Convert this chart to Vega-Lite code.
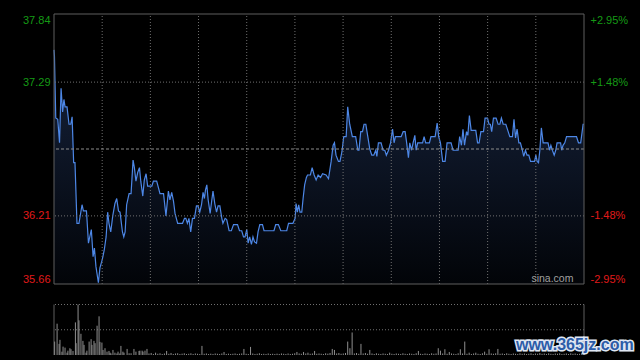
{
  "$schema": "https://vega.github.io/schema/vega-lite/v6.json",
  "width": 530,
  "height": 341,
  "autosize": {"type": "none"},
  "padding": {"left": 54, "top": 14, "right": 56, "bottom": 5},
  "background": "#000000",
  "config": {"view": {"stroke": null}, "font": "Liberation Sans"},
  "datasets": {
    "price": [
      {"t":0,"p":37.55},{"t":0.2,"p":37.5},{"t":0.8,"p":37.0},{"t":1.7,"p":36.99},{"t":2.5,"p":36.8},{"t":3.2,"p":37.24},{"t":3.9,"p":37.05},{"t":4.5,"p":37.15},{"t":5.0,"p":37.09},{"t":5.9,"p":37.09},{"t":6.8,"p":36.95},{"t":7.6,"p":36.95},{"t":8.2,"p":37.01},{"t":8.9,"p":36.64},{"t":9.5,"p":36.64},{"t":10.4,"p":36.15},{"t":11.3,"p":36.15},{"t":12.7,"p":36.3},{"t":13.3,"p":36.25},{"t":14.7,"p":36.25},{"t":15.6,"p":35.99},{"t":16.2,"p":36.04},{"t":16.9,"p":36.1},{"t":17.7,"p":35.88},{"t":18.3,"p":35.95},{"t":19.0,"p":35.8},{"t":20.1,"p":35.67},{"t":20.8,"p":35.79},{"t":21.9,"p":35.86},{"t":22.8,"p":35.94},{"t":23.6,"p":36.04},{"t":24.3,"p":36.24},{"t":24.9,"p":36.15},{"t":25.7,"p":36.08},{"t":26.6,"p":36.21},{"t":27.6,"p":36.31},{"t":28.4,"p":36.35},{"t":29.2,"p":36.25},{"t":29.9,"p":36.24},{"t":31.0,"p":36.08},{"t":31.6,"p":36.04},{"t":32.2,"p":36.08},{"t":32.9,"p":36.3},{"t":34.0,"p":36.39},{"t":34.9,"p":36.39},{"t":35.8,"p":36.66},{"t":36.4,"p":36.6},{"t":37.1,"p":36.49},{"t":37.9,"p":36.56},{"t":38.7,"p":36.6},{"t":39.3,"p":36.49},{"t":40.2,"p":36.37},{"t":40.9,"p":36.5},{"t":41.7,"p":36.55},{"t":42.4,"p":36.45},{"t":44.3,"p":36.45},{"t":45.0,"p":36.49},{"t":46.5,"p":36.49},{"t":48.0,"p":36.39},{"t":49.6,"p":36.39},{"t":50.7,"p":36.21},{"t":51.8,"p":36.41},{"t":52.5,"p":36.34},{"t":53.3,"p":36.4},{"t":54.1,"p":36.33},{"t":54.8,"p":36.23},{"t":56.0,"p":36.15},{"t":58.2,"p":36.15},{"t":59.1,"p":36.19},{"t":59.7,"p":36.19},{"t":60.4,"p":36.15},{"t":61.1,"p":36.19},{"t":61.9,"p":36.08},{"t":62.7,"p":36.19},{"t":63.6,"p":36.19},{"t":64.5,"p":36.29},{"t":65.2,"p":36.29},{"t":66.0,"p":36.24},{"t":66.8,"p":36.3},{"t":67.5,"p":36.4},{"t":68.1,"p":36.35},{"t":68.6,"p":36.42},{"t":69.2,"p":36.46},{"t":69.8,"p":36.34},{"t":70.7,"p":36.23},{"t":71.4,"p":36.33},{"t":72.0,"p":36.41},{"t":72.8,"p":36.31},{"t":73.6,"p":36.24},{"t":74.3,"p":36.29},{"t":75.1,"p":36.29},{"t":76.0,"p":36.19},{"t":76.5,"p":36.15},{"t":77.5,"p":36.19},{"t":78.2,"p":36.18},{"t":79.3,"p":36.09},{"t":80.3,"p":36.09},{"t":81.3,"p":36.14},{"t":83.1,"p":36.14},{"t":84.0,"p":36.09},{"t":85.0,"p":36.09},{"t":85.8,"p":36.04},{"t":86.5,"p":36.04},{"t":87.3,"p":36.1},{"t":87.9,"p":35.99},{"t":88.6,"p":36.04},{"t":89.4,"p":35.98},{"t":90.1,"p":36.04},{"t":90.8,"p":36.0},{"t":91.7,"p":35.99},{"t":92.4,"p":36.08},{"t":93.2,"p":36.14},{"t":94.4,"p":36.14},{"t":95.1,"p":36.09},{"t":99.6,"p":36.09},{"t":100.4,"p":36.14},{"t":101.6,"p":36.14},{"t":102.7,"p":36.09},{"t":105.4,"p":36.09},{"t":106.2,"p":36.15},{"t":108.2,"p":36.15},{"t":109.2,"p":36.19},{"t":109.6,"p":36.31},{"t":110.2,"p":36.24},{"t":110.8,"p":36.3},{"t":111.4,"p":36.24},{"t":112.2,"p":36.24},{"t":112.8,"p":36.35},{"t":113.5,"p":36.46},{"t":114.3,"p":36.52},{"t":114.8,"p":36.54},{"t":116.1,"p":36.54},{"t":116.9,"p":36.6},{"t":117.8,"p":36.54},{"t":118.7,"p":36.5},{"t":119.6,"p":36.54},{"t":120.7,"p":36.52},{"t":121.6,"p":36.55},{"t":123.2,"p":36.54},{"t":124.3,"p":36.51},{"t":125.5,"p":36.65},{"t":126.4,"p":36.78},{"t":127.0,"p":36.8},{"t":127.7,"p":36.7},{"t":128.8,"p":36.65},{"t":129.5,"p":36.65},{"t":130.4,"p":36.73},{"t":131.2,"p":36.85},{"t":132.3,"p":36.85},{"t":133.0,"p":37.09},{"t":133.9,"p":36.95},{"t":135.1,"p":36.85},{"t":136.6,"p":36.85},{"t":137.6,"p":36.74},{"t":138.1,"p":36.74},{"t":138.9,"p":36.89},{"t":139.7,"p":36.89},{"t":140.4,"p":36.95},{"t":141.2,"p":36.95},{"t":142.1,"p":36.85},{"t":143.0,"p":36.75},{"t":143.9,"p":36.7},{"t":144.8,"p":36.7},{"t":145.7,"p":36.74},{"t":146.2,"p":36.69},{"t":146.9,"p":36.8},{"t":148.1,"p":36.8},{"t":149.0,"p":36.74},{"t":149.8,"p":36.74},{"t":150.5,"p":36.7},{"t":151.5,"p":36.74},{"t":152.4,"p":36.8},{"t":153.3,"p":36.91},{"t":154.0,"p":36.8},{"t":154.6,"p":36.85},{"t":157.2,"p":36.85},{"t":158.1,"p":36.89},{"t":159.0,"p":36.89},{"t":159.7,"p":36.8},{"t":160.5,"p":36.68},{"t":161.1,"p":36.8},{"t":161.9,"p":36.74},{"t":162.6,"p":36.8},{"t":163.4,"p":36.86},{"t":164.0,"p":36.74},{"t":164.7,"p":36.8},{"t":166.9,"p":36.8},{"t":167.6,"p":36.85},{"t":168.3,"p":36.8},{"t":170.0,"p":36.8},{"t":170.7,"p":36.85},{"t":172.6,"p":36.85},{"t":173.5,"p":36.96},{"t":174.2,"p":36.85},{"t":175.0,"p":36.8},{"t":176.0,"p":36.65},{"t":177.1,"p":36.65},{"t":178.0,"p":36.8},{"t":179.8,"p":36.8},{"t":180.7,"p":36.74},{"t":183.0,"p":36.74},{"t":183.7,"p":36.85},{"t":184.5,"p":36.78},{"t":185.2,"p":36.91},{"t":185.9,"p":36.78},{"t":186.8,"p":36.89},{"t":187.4,"p":36.86},{"t":188.1,"p":37.02},{"t":188.9,"p":36.9},{"t":191.0,"p":36.9},{"t":191.8,"p":36.8},{"t":192.5,"p":36.8},{"t":193.3,"p":36.89},{"t":194.5,"p":36.89},{"t":195.2,"p":37.0},{"t":196.3,"p":37.0},{"t":197.0,"p":36.95},{"t":197.6,"p":36.95},{"t":198.2,"p":36.89},{"t":199.0,"p":37.0},{"t":200.2,"p":37.0},{"t":201.1,"p":36.95},{"t":201.9,"p":36.95},{"t":202.6,"p":37.0},{"t":203.4,"p":36.95},{"t":204.6,"p":36.95},{"t":205.3,"p":36.91},{"t":206.4,"p":36.85},{"t":207.6,"p":36.85},{"t":208.3,"p":36.99},{"t":209.0,"p":36.84},{"t":209.7,"p":36.91},{"t":210.5,"p":36.8},{"t":211.2,"p":36.8},{"t":212.1,"p":36.74},{"t":212.7,"p":36.69},{"t":213.5,"p":36.74},{"t":214.2,"p":36.7},{"t":215.0,"p":36.7},{"t":215.8,"p":36.65},{"t":217.6,"p":36.65},{"t":218.2,"p":36.7},{"t":218.8,"p":36.65},{"t":219.4,"p":36.64},{"t":220.0,"p":36.74},{"t":220.7,"p":36.92},{"t":221.5,"p":36.8},{"t":223.7,"p":36.8},{"t":224.4,"p":36.74},{"t":225.0,"p":36.78},{"t":225.7,"p":36.74},{"t":226.5,"p":36.7},{"t":227.2,"p":36.74},{"t":227.8,"p":36.8},{"t":229.4,"p":36.8},{"t":229.9,"p":36.74},{"t":230.5,"p":36.78},{"t":231.3,"p":36.8},{"t":232.1,"p":36.85},{"t":236.6,"p":36.85},{"t":237.5,"p":36.8},{"t":238.5,"p":36.8},{"t":239.6,"p":36.95},{"t":240,"p":36.95}
    ],
    "vol": [
      {"t":0.3,"v":13.3},{"t":1.4,"v":31},{"t":2.3,"v":11},{"t":2.7,"v":15},{"t":3.6,"v":3.3},{"t":4.1,"v":8.3},{"t":5.0,"v":7.3},{"t":5.9,"v":2.3},{"t":6.3,"v":4.3},{"t":7.2,"v":6.7},{"t":7.7,"v":5.7},{"t":8.6,"v":4},{"t":9.7,"v":32.3},{"t":10.0,"v":11.7},{"t":10.9,"v":50},{"t":11.3,"v":34.3},{"t":12.2,"v":21},{"t":13.1,"v":14},{"t":13.6,"v":10},{"t":14.5,"v":2.3},{"t":14.9,"v":4.3},{"t":15.9,"v":13.3},{"t":16.8,"v":15.7},{"t":17.2,"v":10},{"t":18.1,"v":14},{"t":18.6,"v":11.7},{"t":19.5,"v":29},{"t":20.4,"v":38.3},{"t":20.8,"v":13},{"t":21.7,"v":12.3},{"t":22.2,"v":5},{"t":23.1,"v":6.7},{"t":24.0,"v":3.3},{"t":24.9,"v":4},{"t":25.4,"v":2.3},{"t":25.8,"v":1.5},{"t":26.7,"v":5},{"t":27.6,"v":2.3},{"t":28.5,"v":1.5},{"t":29.0,"v":3.3},{"t":29.8,"v":1.5},{"t":30.3,"v":9},{"t":31.2,"v":3.3},{"t":31.7,"v":2.3},{"t":33.1,"v":6},{"t":34.0,"v":1.7},{"t":34.9,"v":1.7},{"t":36.2,"v":6},{"t":37.1,"v":3.3},{"t":38.5,"v":4},{"t":38.9,"v":4.3},{"t":39.9,"v":4.3},{"t":40.3,"v":3.3},{"t":41.2,"v":4.3},{"t":42.1,"v":6},
      {"t":43,"v":1.5},{"t":44,"v":2},{"t":45,"v":1},{"t":46,"v":2.3},{"t":47,"v":1.2},{"t":48,"v":1.7},{"t":49,"v":1},{"t":50,"v":1.5},{"t":51,"v":4},{"t":52,"v":1.2},{"t":53,"v":2},{"t":54,"v":1},{"t":55,"v":1.5},{"t":56,"v":1.7},{"t":57,"v":1},{"t":58,"v":1.3},{"t":59,"v":1.7},{"t":60,"v":1},{"t":61,"v":1.2},{"t":62,"v":1.7},{"t":63,"v":1},{"t":64,"v":1.5},{"t":65,"v":1.2},{"t":66,"v":1},{"t":67,"v":9},{"t":68,"v":1.2},{"t":69,"v":1.5},{"t":70,"v":1},{"t":71,"v":1.3},{"t":72,"v":1},{"t":73,"v":1.5},{"t":74,"v":1.2},{"t":75,"v":1},{"t":76,"v":1.5},{"t":77,"v":3},{"t":78,"v":1},{"t":79,"v":1.3},{"t":80,"v":1},{"t":81,"v":1.2},{"t":82,"v":1.5},{"t":83,"v":1},{"t":84,"v":1.2},{"t":85,"v":1.5},{"t":86,"v":6},{"t":87,"v":1.2},{"t":88,"v":1},{"t":89,"v":8},{"t":90,"v":1.5},{"t":91,"v":1},{"t":92,"v":1.2},{"t":93,"v":1.7},{"t":94,"v":1},{"t":95,"v":1.2},{"t":96,"v":1},{"t":97,"v":1.5},{"t":98,"v":1},{"t":99,"v":1.2},{"t":100,"v":1},{"t":101,"v":1.3},{"t":102,"v":1},{"t":103,"v":1.5},{"t":104,"v":1.2},{"t":105,"v":1},{"t":106,"v":1.5},{"t":107,"v":1},{"t":108,"v":1.2},{"t":109,"v":1.7},{"t":110,"v":3},{"t":111,"v":1.5},{"t":112,"v":1.2},{"t":113,"v":3},{"t":114,"v":1.5},{"t":115,"v":2.3},{"t":116,"v":1.2},{"t":117,"v":1.5},{"t":118,"v":4},{"t":119,"v":1.2},{"t":120,"v":1.5},{"t":121,"v":1.2},{"t":122,"v":1},{"t":123,"v":1.7},{"t":124,"v":1.3},{"t":125,"v":2},{"t":126,"v":6},{"t":127,"v":5},{"t":128,"v":1.5},{"t":129,"v":2},{"t":130,"v":1.2},{"t":131,"v":1.5},{"t":132,"v":2},{"t":133,"v":13.3},{"t":134,"v":6.7},{"t":135,"v":22.3},{"t":136,"v":1.5},{"t":137,"v":2},{"t":138,"v":1.2},{"t":139,"v":11},{"t":140,"v":1.5},{"t":141,"v":2},{"t":142,"v":1.2},{"t":143,"v":5},{"t":144,"v":1.5},{"t":145,"v":1},{"t":146,"v":1.7},{"t":147,"v":1.2},{"t":148,"v":1},{"t":149,"v":1.5},{"t":150,"v":1.2},{"t":151,"v":1},{"t":152,"v":2.3},{"t":153,"v":1.2},{"t":154,"v":1},{"t":155,"v":1.5},{"t":156,"v":1.2},{"t":157,"v":1},{"t":158,"v":1.7},{"t":159,"v":1.2},{"t":160,"v":1},{"t":161,"v":1.5},{"t":162,"v":1.2},{"t":163,"v":1},{"t":164,"v":1.7},{"t":165,"v":4},{"t":166,"v":1.2},{"t":167,"v":1},{"t":168,"v":1.5},{"t":169,"v":1.2},{"t":170,"v":1},{"t":171,"v":1.7},{"t":172,"v":1.2},{"t":173,"v":1.5},{"t":174,"v":6.7},{"t":175,"v":4.3},{"t":176,"v":1.5},{"t":177,"v":5.7},{"t":178,"v":1.2},{"t":179,"v":3},{"t":180,"v":1.5},{"t":181,"v":1.2},{"t":182,"v":1},{"t":183,"v":1.7},{"t":184,"v":5.7},{"t":185,"v":1.5},{"t":186,"v":13.3},{"t":187,"v":1.2},{"t":188,"v":2.3},{"t":189,"v":1},{"t":190,"v":1.5},{"t":191,"v":2.3},{"t":192,"v":1.2},{"t":193,"v":1},{"t":194,"v":1.7},{"t":195,"v":3.3},{"t":196,"v":1.2},{"t":197,"v":5.7},{"t":198,"v":1.5},{"t":199,"v":1.2},{"t":200,"v":1.7},{"t":201,"v":6},{"t":202,"v":1.2},{"t":203,"v":1.5},{"t":204,"v":1},{"t":205,"v":1.7},{"t":206,"v":1.2},{"t":207,"v":1},{"t":208,"v":1.5},{"t":209,"v":1.2},{"t":210,"v":1},{"t":211,"v":1.7},{"t":212,"v":1.2},{"t":213,"v":1.5},{"t":214,"v":1},{"t":215,"v":1.2},{"t":216,"v":1.7},{"t":217,"v":1},{"t":218,"v":1.5},{"t":219,"v":1.2},{"t":220,"v":2},{"t":221,"v":1.2},{"t":222,"v":1.5},{"t":223,"v":1},{"t":224,"v":1.7},{"t":225,"v":1.2},{"t":226,"v":1},{"t":227,"v":1.5},{"t":228,"v":1.2},{"t":229,"v":1.7},{"t":230,"v":1},{"t":231,"v":1.2},{"t":232,"v":1.5},{"t":233,"v":1},{"t":234,"v":1.7},{"t":235,"v":1.2},{"t":236,"v":1.5},{"t":237,"v":1},{"t":238,"v":1.2},{"t":239,"v":2},{"t":240,"v":2.5}
    ],
    "hgrid": [{"p":36.21},{"p":37.29}],
    "prevclose": [{"p":36.75}],
    "pborder": [{"p":35.66},{"p":37.84}],
    "vgrid": [{"t":21.82},{"t":43.64},{"t":65.45},{"t":87.27},{"t":109.09},{"t":130.91},{"t":152.73},{"t":174.55},{"t":196.36},{"t":218.18}],
    "sides": [{"t":0},{"t":240}],
    "vlines": [{"v":25},{"v":50}]
  },
  "layer": [
    {
      "data": {"name": "price"},
      "layer": [
        {
          "mark": {"type": "area", "color": {"gradient": "linear", "x1": 0, "y1": 0, "x2": 0, "y2": 1, "stops": [{"offset": 0, "color": "#16233d"}, {"offset": 1, "color": "#020408"}]}},
          "encoding": {
            "x": {"field": "t", "type": "quantitative", "scale": {"domain": [0, 240], "nice": false, "zero": false}, "axis": null},
            "y": {"field": "p", "type": "quantitative", "scale": {"domain": [35.66, 37.84], "range": [270, 0], "nice": false, "zero": false},
                  "axis": {"orient": "left", "title": null, "values": [35.66, 36.21, 37.29, 37.84], "format": ".2f", "grid": false, "domain": false, "ticks": false, "labelPadding": 4, "labelFlush": true, "labelFontSize": 11, "labelFont": "Liberation Sans",
                           "labelColor": {"condition": {"test": "datum.value > 36.75", "value": "#159a15"}, "value": "#e01a1a"}}},
            "y2": {"datum": 35.66}
          }
        },
        {
          "mark": {"type": "line", "color": "#4d87e6", "strokeWidth": 1.2},
          "encoding": {
            "x": {"field": "t", "type": "quantitative", "scale": {"domain": [0, 240], "nice": false, "zero": false}, "axis": null},
            "y": {"field": "p", "type": "quantitative", "scale": {"domain": [35.66, 37.84], "range": [270, 0], "nice": false, "zero": false},
                  "axis": {"orient": "left", "title": null, "values": [35.66, 36.21, 37.29, 37.84], "format": ".2f", "grid": false, "domain": false, "ticks": false, "labelPadding": 4, "labelFlush": true, "labelFontSize": 11, "labelFont": "Liberation Sans",
                           "labelColor": {"condition": {"test": "datum.value > 36.75", "value": "#159a15"}, "value": "#e01a1a"}}}
          }
        }
      ]
    },
    {
      "layer": [
        {
          "data": {"name": "hgrid"},
          "mark": {"type": "rule", "color": "#707070", "strokeWidth": 1, "strokeDash": [1, 2]},
          "encoding": {
            "y": {"field": "p", "type": "quantitative", "scale": {"domain": [35.66, 37.84], "range": [270, 0], "nice": false, "zero": false},
                  "axis": {"orient": "right", "title": null, "values": [35.66, 36.21, 37.29, 37.84], "grid": false, "domain": false, "ticks": false, "labelPadding": 6, "labelFlush": true, "labelFontSize": 11, "labelFont": "Liberation Sans",
                           "labelExpr": "datum.value > 37.5 ? '+2.95%' : datum.value > 37 ? '+1.48%' : datum.value > 36 ? '-1.48%' : '-2.95%'",
                           "labelColor": {"condition": {"test": "datum.value > 36.75", "value": "#159a15"}, "value": "#e01a1a"}}}
          }
        },
        {
          "data": {"name": "vgrid"},
          "mark": {"type": "rule", "color": "#707070", "strokeWidth": 1, "strokeDash": [1, 2]},
          "encoding": {
            "x": {"field": "t", "type": "quantitative", "scale": {"domain": [0, 240], "nice": false, "zero": false}, "axis": null},
            "y": {"datum": 35.66, "type": "quantitative"},
            "y2": {"datum": 37.84}
          }
        },
        {
          "data": {"name": "prevclose"},
          "mark": {"type": "rule", "color": "#8c8c8c", "strokeWidth": 1, "strokeDash": [3, 2]},
          "encoding": {
            "y": {"field": "p", "type": "quantitative"}
          }
        },
        {
          "data": {"name": "pborder"},
          "mark": {"type": "rule", "color": "#5e5e5e", "strokeWidth": 1},
          "encoding": {
            "y": {"field": "p", "type": "quantitative"}
          }
        },
        {
          "data": {"name": "sides"},
          "mark": {"type": "rule", "color": "#5e5e5e", "strokeWidth": 1},
          "encoding": {
            "x": {"field": "t", "type": "quantitative", "scale": {"domain": [0, 240], "nice": false, "zero": false}, "axis": null},
            "y": {"datum": 35.66, "type": "quantitative"},
            "y2": {"datum": 37.84}
          }
        },
        {
          "data": {"values": [{"label": "sina.com"}]},
          "mark": {"type": "text", "align": "right", "baseline": "middle", "fontSize": 10.5, "font": "Liberation Sans", "color": "#a0a0a0"},
          "encoding": {
            "x": {"datum": 235.2, "type": "quantitative"},
            "y": {"datum": 35.7, "type": "quantitative"},
            "text": {"field": "label"}
          }
        }
      ]
    },
    {
      "layer": [
        {
          "data": {"name": "vlines"},
          "mark": {"type": "rule", "color": "#707070", "strokeWidth": 1, "strokeDash": [1, 2]},
          "encoding": {
            "y": {"field": "v", "type": "quantitative", "scale": {"domain": [0, 50], "range": [341, 290.5], "nice": false, "zero": true}, "axis": null}
          }
        },
        {
          "data": {"name": "sides"},
          "mark": {"type": "rule", "color": "#5e5e5e", "strokeWidth": 1},
          "encoding": {
            "x": {"field": "t", "type": "quantitative", "scale": {"domain": [0, 240], "nice": false, "zero": false}, "axis": null},
            "y": {"datum": 0, "type": "quantitative"},
            "y2": {"datum": 50}
          }
        },
        {
          "data": {"name": "vol"},
          "mark": {"type": "rule", "color": "#8e8e8e", "strokeWidth": 1},
          "encoding": {
            "x": {"field": "t", "type": "quantitative", "scale": {"domain": [0, 240], "nice": false, "zero": false}, "axis": null},
            "y": {"field": "v", "type": "quantitative"},
            "y2": {"datum": 0}
          }
        },
        {
          "data": {"values": [{"label": "www.365jz.com"}]},
          "mark": {"type": "text", "align": "left", "baseline": "middle", "fontSize": 16, "font": "Liberation Sans", "fontWeight": "bold", "color": "#e8eef8", "stroke": "#dfe6f2", "strokeWidth": 3},
          "encoding": {
            "x": {"datum": 209.2, "type": "quantitative"},
            "y": {"datum": 9.9, "type": "quantitative"},
            "text": {"field": "label"}
          }
        },
        {
          "data": {"values": [{"label": "www.365jz.com"}]},
          "mark": {"type": "text", "align": "left", "baseline": "middle", "fontSize": 16, "font": "Liberation Sans", "fontWeight": "bold", "color": "#2c5ca8"},
          "encoding": {
            "x": {"datum": 209.2, "type": "quantitative"},
            "y": {"datum": 9.9, "type": "quantitative"},
            "text": {"field": "label"}
          }
        }
      ]
    }
  ],
  "resolve": {"scale": {"y": "independent"}, "axis": {"y": "independent"}}
}
